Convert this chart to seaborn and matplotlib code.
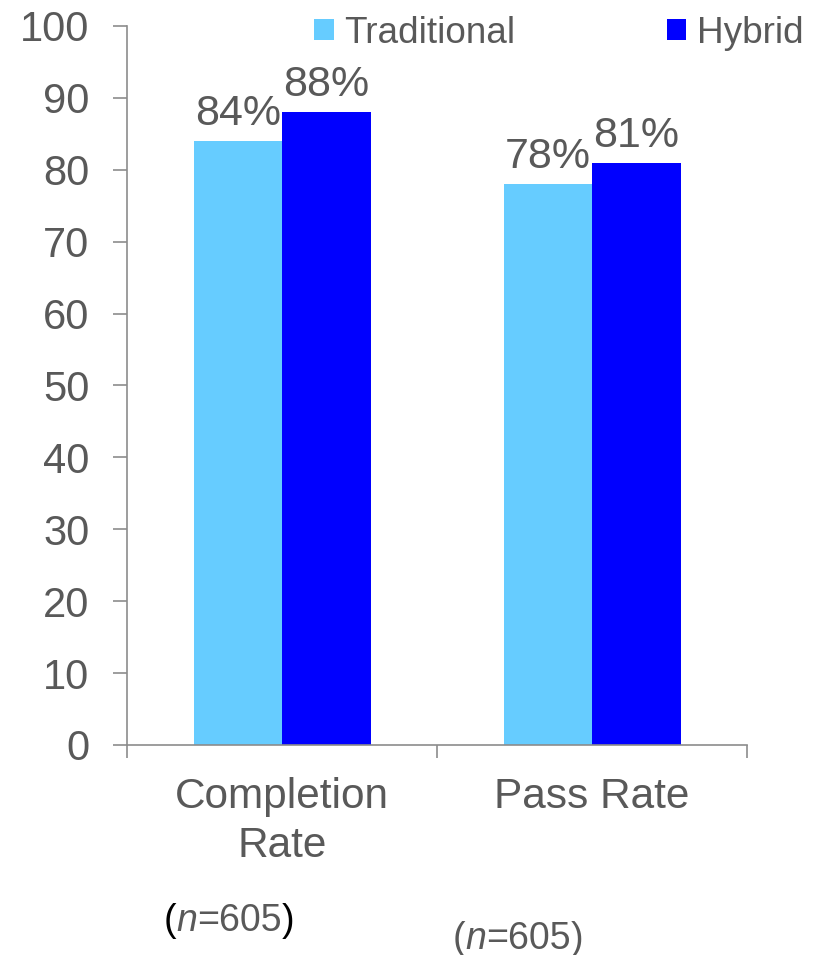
import matplotlib
matplotlib.use("Agg")
import matplotlib.pyplot as plt
import pandas as pd
import seaborn as sns

# chart values
categories = ["Completion\nRate", "Pass Rate"]
groups = ["Traditional", "Hybrid"]
traditional = [84, 78]
hybrid = [88, 81]
sample_notes = ["605", "605"]

df = pd.DataFrame({
    "category": categories * 2,
    "group": [groups[0]] * len(categories) + [groups[1]] * len(categories),
    "value": traditional + hybrid,
})

sns.set_style("white")
plt.rcParams["font.family"] = ["Liberation Sans", "DejaVu Sans"]

gray = "#595959"
axis_gray = "#8c8c8c"
palette = {"Traditional": "#66CCFF", "Hybrid": "#0000FF"}

fig = plt.figure(figsize=(8.21, 9.55), dpi=100)
ax = fig.add_axes([0.1547, 0.2199, 0.7552, 0.7529])

sns.barplot(data=df, x="category", y="value", hue="group", palette=palette,
            width=0.571, saturation=1, ax=ax, legend=True,
            edgecolor="none", linewidth=0)

for cont in ax.containers:
    vals = [int(round(b.get_height())) for b in cont]
    ax.bar_label(cont, labels=[f"{v}%" for v in vals], padding=5,
                 fontsize=31, color=gray)

ax.set_ylim(0, 100)
ax.set_xlim(-0.5, 1.5)
ax.set_yticks(range(0, 101, 10))
ax.set_xlabel("")
ax.set_ylabel("")

# x axis: boundary ticks without labels, labels at category centres
ax.set_xticks([-0.5, 0.5, 1.5])
ax.set_xticklabels([])
ax.set_xticks([0, 1], minor=True)
ax.set_xticklabels(categories, minor=True, fontsize=30.5, color=gray,
                   linespacing=1.3)
ax.tick_params(axis="x", which="major", length=9, width=1.2, color=axis_gray,
               direction="out", bottom=True)
ax.tick_params(axis="x", which="minor", length=0, pad=23)
ax.tick_params(axis="y", length=10, width=1.2, color=axis_gray, labelsize=30,
               labelcolor=gray, pad=17, left=True)

sns.despine(ax=ax)
for s in ["left", "bottom"]:
    ax.spines[s].set_color(axis_gray)
    ax.spines[s].set_linewidth(1.2)

leg = ax.legend(loc="center left", bbox_to_anchor=(0.302, 0.99), ncol=2,
                frameon=False, fontsize=26.6, handlelength=0.53,
                handleheight=0.53, handletextpad=0.28, columnspacing=4.1,
                borderaxespad=0, borderpad=0)
for t in leg.get_texts():
    t.set_color(gray)

# sample size notes
fs = 27
t0 = fig.text(0.199, 0.017, "(", fontsize=fs, color="black", ha="left",
              va="bottom")
t1 = ax.annotate("n", xy=(1, 0), xycoords=t0, fontsize=fs, color=gray,
                 style="italic", ha="left", va="bottom")
t2 = ax.annotate("=" + sample_notes[0], xy=(1, 0), xycoords=t1, fontsize=fs,
                 color=gray, ha="left", va="bottom")
ax.annotate(")", xy=(1, 0), xycoords=t2, fontsize=fs, color="black",
            ha="left", va="bottom")

s0 = fig.text(0.551, -0.002, "(", fontsize=fs, color=gray, ha="left",
              va="bottom")
s1 = ax.annotate("n", xy=(1, 0), xycoords=s0, fontsize=fs, color=gray,
                 style="italic", ha="left", va="bottom")
s2 = ax.annotate("=" + sample_notes[1], xy=(1, 0), xycoords=s1, fontsize=fs,
                 color=gray, ha="left", va="bottom")
ax.annotate(")", xy=(1, 0), xycoords=s2, fontsize=fs, color=gray,
            ha="left", va="bottom")

fig.savefig("out.png", dpi=100)
